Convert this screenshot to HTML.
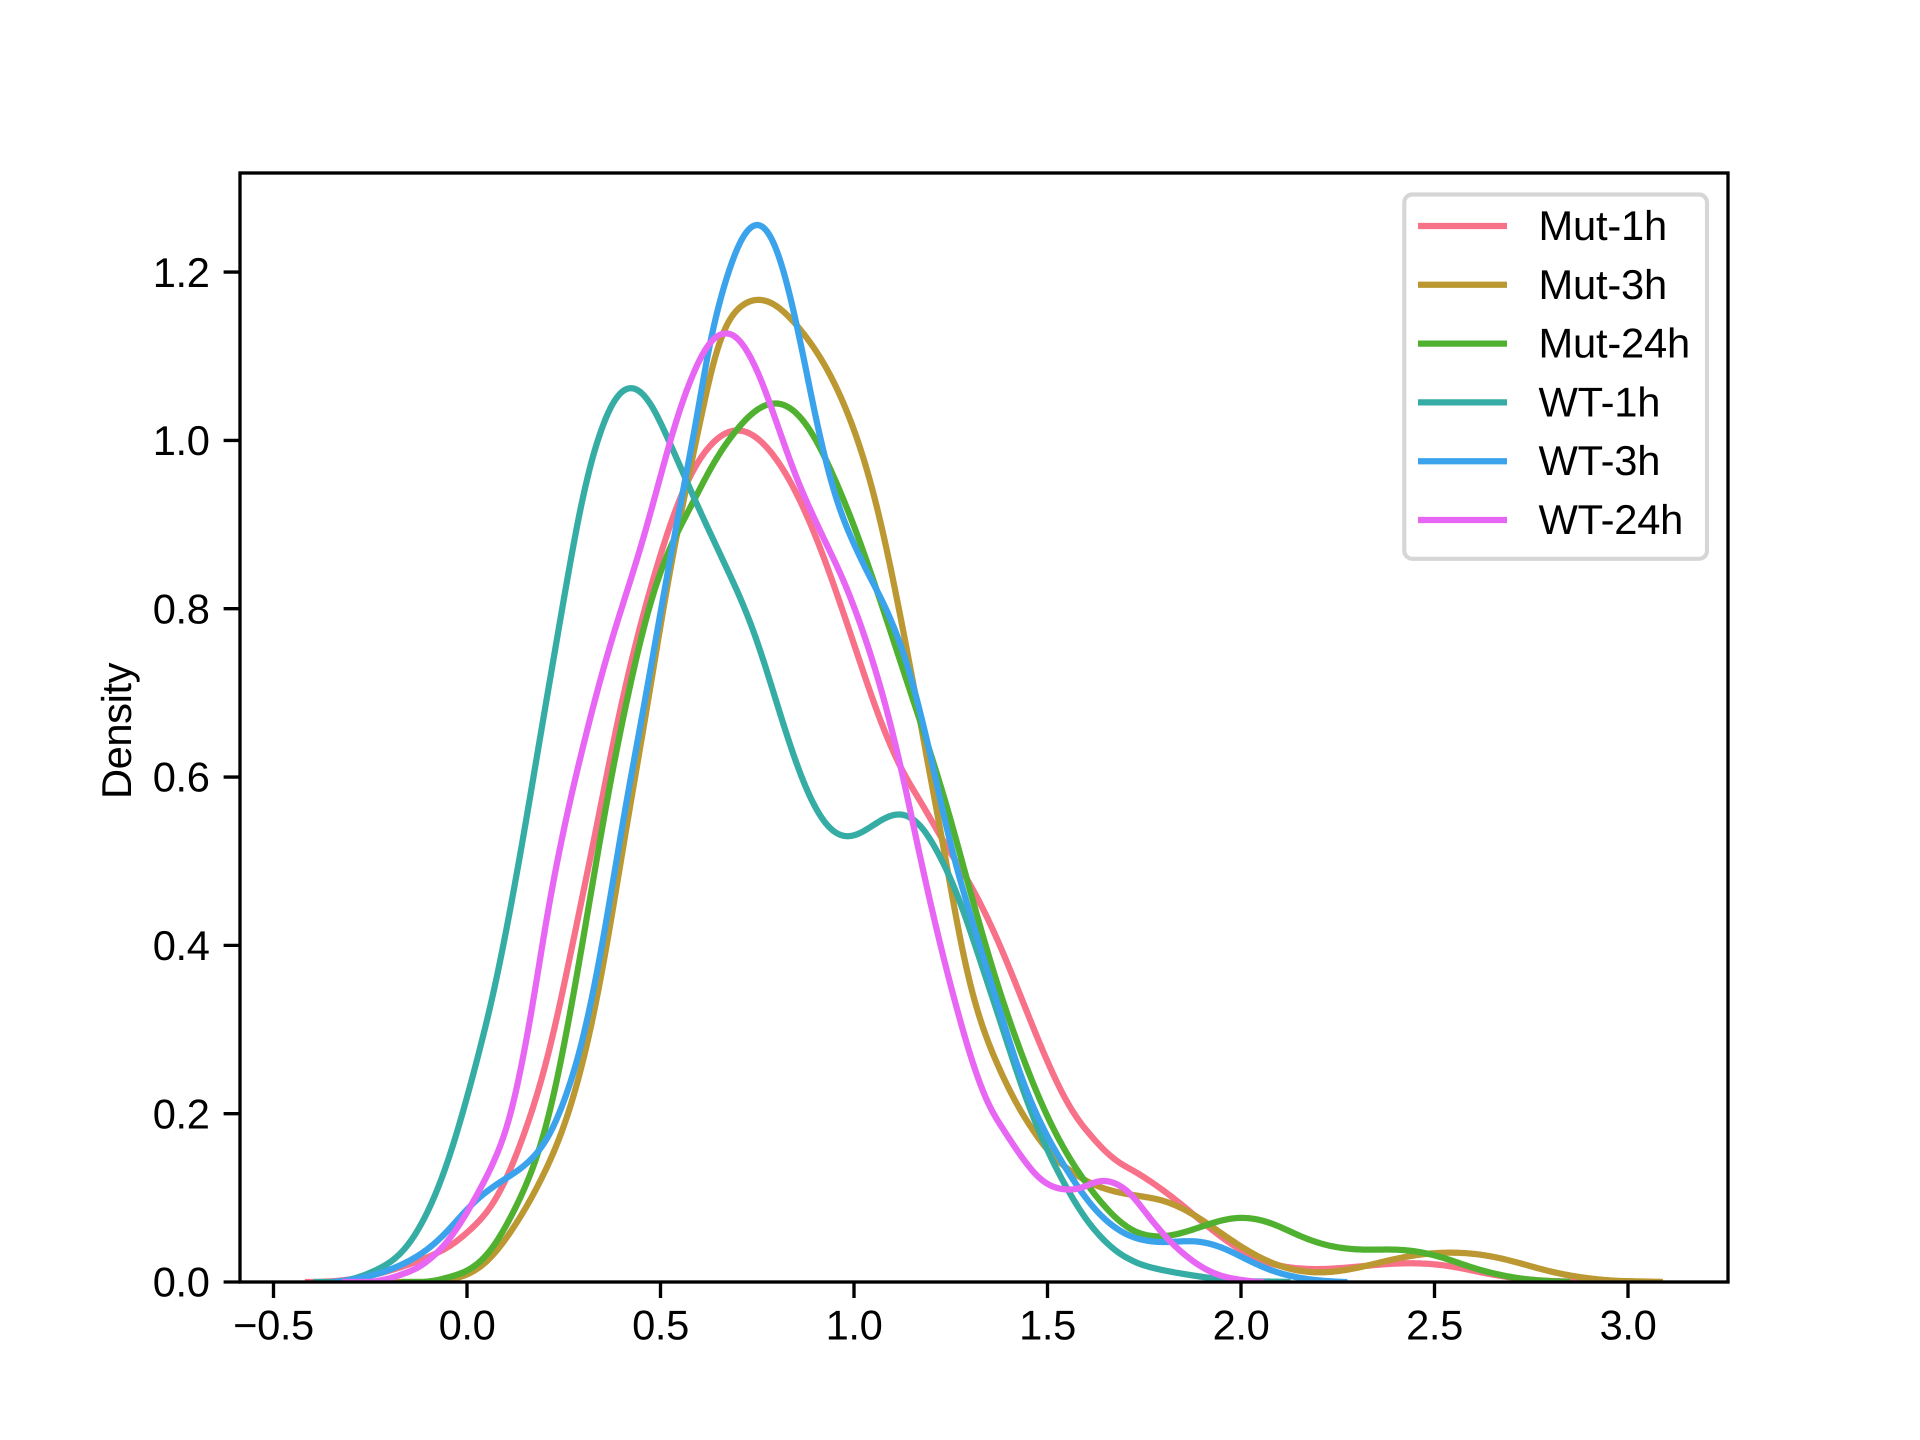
<!DOCTYPE html>
<html lang="en">
<head>
<meta charset="utf-8">
<title>Density by group</title>
<style>
html,body{margin:0;padding:0;background:#fff;}
svg{display:block;}
text{font-family:"Liberation Sans",Arial,sans-serif;font-size:41.67px;fill:#000;text-rendering:geometricPrecision;letter-spacing:-0.4px;}
#legend text{letter-spacing:-0.2px;}
</style>
</head>
<body>
<svg id="chart" xmlns="http://www.w3.org/2000/svg" width="1920" height="1440" viewBox="0 0 1920 1440">
  <rect x="0" y="0" width="1920" height="1440" fill="#ffffff"/>
  <defs>
    <clipPath id="plot-clip"><rect x="240" y="173" width="1488" height="1109"/></clipPath>
  </defs>
  <g id="series-layer" clip-path="url(#plot-clip)"></g>
  <g id="x-axis"></g>
  <g id="y-axis"></g>
  <text transform="translate(131,731) rotate(-90)" text-anchor="middle">Density</text>
  <rect x="240" y="173" width="1488" height="1109" fill="none" stroke="#000" stroke-width="3.33"/>
  <g id="legend">
    <rect x="1404.3" y="194.5" width="302.7" height="364.3" rx="8" ry="8" fill="#ffffff" stroke="#d6d6d6" stroke-width="4.17"/>
  </g>
</svg>
<script>
const seriesNames = ['Mut-1h', 'Mut-3h', 'Mut-24h', 'WT-1h', 'WT-3h', 'WT-24h'];
const seriesColors = ['#f77189', '#bb9832', '#50b131', '#36ada4', '#3ba3ec', '#e866f4'];
const xTicks = [-0.5, 0, 0.5, 1, 1.5, 2, 2.5, 3];
const xTickLabels = ['\u22120.5', '0.0', '0.5', '1.0', '1.5', '2.0', '2.5', '3.0'];
const yTicks = [0, 0.2, 0.4, 0.6, 0.8, 1, 1.2];
const yTickLabels = ['0.0', '0.2', '0.4', '0.6', '0.8', '1.0', '1.2'];

const mut1hX = [-0.419,-0.3,-0.217,-0.13,-0.044,0.008,0.059,0.103,0.154,0.197,0.232,0.283,0.335,0.39,0.43,0.464,0.499,0.542,0.576,0.636,0.692,0.731,0.774,0.817,0.86,0.904,0.964,1.016,1.067,1.119,1.188,1.222,1.308,1.36,1.411,1.455,1.506,1.566,1.623,1.658,1.744,1.805,1.866,1.927,1.987,2.061,2.158,2.233,2.33,2.44,2.537,2.624,2.72,2.9];
const mut1hY = [0,0.003,0.0115,0.026,0.043,0.064,0.0875,0.124,0.187,0.245,0.315,0.425,0.54,0.668,0.747,0.807,0.862,0.921,0.957,0.997,1.012,1.008,0.992,0.965,0.929,0.882,0.807,0.736,0.668,0.612,0.561,0.529,0.466,0.418,0.363,0.311,0.256,0.2,0.171,0.15,0.127,0.107,0.085,0.061,0.0415,0.0237,0.016,0.016,0.02,0.0225,0.02,0.01,0.004,0];

const mut3hX = [-0.2,-0.1,-0.036,0.016,0.067,0.119,0.163,0.206,0.262,0.326,0.374,0.412,0.462,0.529,0.585,0.645,0.68,0.714,0.757,0.8,0.86,0.921,0.972,1.024,1.08,1.119,1.153,1.188,1.23,1.256,1.282,1.308,1.343,1.386,1.43,1.476,1.5,1.586,1.669,1.744,1.83,1.9,1.987,2.072,2.146,2.22,2.305,2.415,2.537,2.66,2.78,2.9,3.09];
const mut3hY = [0,0.001,0.005,0.012,0.0316,0.065,0.097,0.137,0.2,0.315,0.43,0.549,0.668,0.862,0.976,1.111,1.143,1.16,1.167,1.159,1.131,1.092,1.044,0.98,0.882,0.79,0.715,0.62,0.525,0.45,0.391,0.339,0.291,0.244,0.204,0.173,0.156,0.125,0.107,0.103,0.093,0.073,0.046,0.0237,0.0138,0.0114,0.0177,0.03,0.035,0.03,0.0138,0.0043,0];

const mut24hX = [-0.17,-0.078,-0.036,0.008,0.051,0.093,0.137,0.18,0.218,0.264,0.309,0.352,0.403,0.447,0.481,0.516,0.55,0.585,0.636,0.687,0.749,0.8,0.843,0.886,0.929,0.972,1.033,1.075,1.162,1.222,1.3,1.343,1.395,1.446,1.524,1.597,1.658,1.718,1.78,1.84,1.914,2.0,2.072,2.158,2.233,2.318,2.415,2.488,2.6,2.695,2.85];
const mut24hY = [0,0.003,0.0078,0.016,0.0316,0.061,0.101,0.148,0.209,0.315,0.43,0.549,0.668,0.759,0.818,0.862,0.897,0.925,0.973,1.006,1.036,1.044,1.036,1.012,0.976,0.929,0.858,0.798,0.676,0.596,0.466,0.394,0.32,0.256,0.173,0.121,0.085,0.061,0.0546,0.0575,0.069,0.078,0.071,0.053,0.0415,0.0385,0.0387,0.034,0.016,0.0058,0];

const wt1hX = [-0.397,-0.3,-0.26,-0.173,-0.088,0,0.055,0.107,0.145,0.197,0.232,0.266,0.3,0.339,0.387,0.424,0.464,0.516,0.568,0.636,0.688,0.731,0.774,0.817,0.86,0.904,0.946,0.985,1.033,1.076,1.116,1.162,1.222,1.248,1.291,1.334,1.377,1.446,1.5,1.56,1.62,1.68,1.805,1.94,2.128];
const wt1hY = [0,0.004,0.009,0.035,0.093,0.2235,0.315,0.43,0.529,0.668,0.763,0.85,0.937,1.0,1.052,1.062,1.05,1.004,0.949,0.882,0.83,0.787,0.727,0.664,0.605,0.561,0.535,0.53,0.537,0.551,0.556,0.547,0.505,0.481,0.43,0.37,0.311,0.216,0.156,0.105,0.061,0.0375,0.016,0.004,0];

const wt3hX = [-0.346,-0.25,-0.165,-0.104,-0.052,0,0.043,0.086,0.137,0.18,0.214,0.248,0.313,0.361,0.403,0.451,0.477,0.507,0.533,0.559,0.585,0.628,0.663,0.705,0.731,0.753,0.774,0.8,0.835,0.869,0.904,0.938,0.972,0.998,1.033,1.076,1.119,1.162,1.204,1.256,1.291,1.334,1.377,1.453,1.512,1.573,1.633,1.695,1.756,1.817,1.89,1.951,2.025,2.098,2.17,2.275];
const wt3hY = [0,0.0078,0.022,0.0375,0.059,0.087,0.105,0.119,0.135,0.153,0.176,0.212,0.315,0.43,0.549,0.668,0.735,0.814,0.878,0.945,1.0,1.119,1.179,1.234,1.252,1.256,1.25,1.226,1.171,1.1,1.02,0.957,0.905,0.882,0.844,0.807,0.759,0.695,0.612,0.505,0.454,0.386,0.323,0.216,0.165,0.117,0.081,0.059,0.0486,0.048,0.049,0.0415,0.0237,0.01,0.004,0];

const wt24hX = [-0.323,-0.207,-0.121,-0.078,-0.036,0.008,0.051,0.086,0.128,0.163,0.219,0.266,0.318,0.37,0.421,0.473,0.525,0.576,0.619,0.654,0.675,0.705,0.739,0.783,0.826,0.878,0.925,0.99,1.033,1.076,1.119,1.171,1.205,1.24,1.282,1.334,1.403,1.426,1.475,1.524,1.573,1.646,1.683,1.731,1.792,1.866,1.914,1.987,2.061];
const wt24hY = [0,0.0058,0.0197,0.034,0.0575,0.089,0.129,0.16,0.225,0.315,0.47,0.57,0.668,0.759,0.83,0.909,1.0,1.068,1.111,1.125,1.127,1.119,1.092,1.044,0.985,0.925,0.882,0.814,0.759,0.695,0.616,0.505,0.435,0.37,0.299,0.224,0.171,0.153,0.125,0.111,0.111,0.12,0.117,0.097,0.0575,0.03,0.012,0.0043,0];

const seriesX = [mut1hX, mut3hX, mut24hX, wt1hX, wt3hX, wt24hX];
const seriesY = [mut1hY, mut3hY, mut24hY, wt1hY, wt3hY, wt24hY];

const SVG_NS = 'http://www.w3.org/2000/svg';
function xScale(v) { return 467 + 387 * v; }
function yScale(v) { return 1282 - 841.6 * v; }

/* Gaussian-weighted local quadratic fit with a bandwidth that varies smoothly
   with knot density: removes reading jitter while keeping peak heights. */
function localFit(xs, ys, at) {
  let density = 0;
  for (let i = 0; i < xs.length; i++) {
    const u = (xs[i] - at) / 0.08;
    density += Math.exp(-0.5 * u * u);
  }
  const sigma = Math.min(0.1, Math.max(0.035, 0.2 / Math.max(density, 0.01)));
  const s = [0, 0, 0, 0, 0];
  const t = [0, 0, 0];
  for (let i = 0; i < xs.length; i++) {
    const u = xs[i] - at;
    const w = Math.exp(-0.5 * u * u / (sigma * sigma));
    let p = w;
    for (let k = 0; k < 5; k++) {
      s[k] += p;
      if (k < 3) { t[k] += p * ys[i]; }
      p *= u;
    }
  }
  const det = s[0] * (s[2] * s[4] - s[3] * s[3]) - s[1] * (s[1] * s[4] - s[3] * s[2]) + s[2] * (s[1] * s[3] - s[2] * s[2]);
  if (Math.abs(det) < 1e-18) { return Math.max(0, t[0] / s[0]); }
  const num = t[0] * (s[2] * s[4] - s[3] * s[3]) - s[1] * (t[1] * s[4] - s[3] * t[2]) + s[2] * (t[1] * s[3] - s[2] * t[2]);
  return Math.max(0, num / det);
}

function curvePath(xs, ys) {
  const first = xs[0];
  const last = xs[xs.length - 1];
  /* zero-density padding beyond each end keeps the tails flat on the axis */
  const fitX = [first - 0.3, first - 0.2, first - 0.1].concat(xs, [last + 0.1, last + 0.2, last + 0.3]);
  const fitY = [0, 0, 0].concat(ys, [0, 0, 0]);
  const count = Math.ceil((last - first) / 0.005);
  let d = '';
  for (let i = 0; i <= count; i++) {
    const at = first + (last - first) * i / count;
    const value = localFit(fitX, fitY, at);
    d += (i === 0 ? 'M' : 'L') + xScale(at).toFixed(2) + ' ' + yScale(value).toFixed(2);
  }
  return d;
}

const seriesLayer = document.getElementById('series-layer');
seriesNames.forEach(function (name, i) {
  const path = document.createElementNS(SVG_NS, 'path');
  path.setAttribute('d', curvePath(seriesX[i], seriesY[i]));
  path.setAttribute('fill', 'none');
  path.setAttribute('stroke', seriesColors[i]);
  path.setAttribute('stroke-width', '6.25');
  path.setAttribute('stroke-linejoin', 'round');
  
  
  seriesLayer.appendChild(path);
});

const xAxis = document.getElementById('x-axis');
xTicks.forEach(function (v, i) {
  const tick = document.createElementNS(SVG_NS, 'line');
  tick.setAttribute('x1', xScale(v));
  tick.setAttribute('x2', xScale(v));
  tick.setAttribute('y1', 1282);
  tick.setAttribute('y2', 1298);
  tick.setAttribute('stroke', '#000');
  tick.setAttribute('stroke-width', '3.33');
  
  
  xAxis.appendChild(tick);
  const label = document.createElementNS(SVG_NS, 'text');
  label.setAttribute('x', xScale(v));
  label.setAttribute('y', 1339.5);
  label.setAttribute('text-anchor', 'middle');
  
  
  label.textContent = xTickLabels[i];
  xAxis.appendChild(label);
});

const yAxis = document.getElementById('y-axis');
yTicks.forEach(function (v, i) {
  const tick = document.createElementNS(SVG_NS, 'line');
  tick.setAttribute('x1', 223.6);
  tick.setAttribute('x2', 240);
  tick.setAttribute('y1', yScale(v));
  tick.setAttribute('y2', yScale(v));
  tick.setAttribute('stroke', '#000');
  tick.setAttribute('stroke-width', '3.33');
  
  
  yAxis.appendChild(tick);
  const label = document.createElementNS(SVG_NS, 'text');
  label.setAttribute('x', 209.5);
  label.setAttribute('y', yScale(v) + 14.7);
  label.setAttribute('text-anchor', 'end');
  
  
  label.textContent = yTickLabels[i];
  yAxis.appendChild(label);
});

const legend = document.getElementById('legend');
seriesNames.forEach(function (name, i) {
  const rowY = 226 + i * 58.8;
  const swatch = document.createElementNS(SVG_NS, 'line');
  swatch.setAttribute('x1', 1418);
  swatch.setAttribute('x2', 1507);
  swatch.setAttribute('y1', rowY);
  swatch.setAttribute('y2', rowY);
  swatch.setAttribute('stroke', seriesColors[i]);
  swatch.setAttribute('stroke-width', '6.25');
  
  
  legend.appendChild(swatch);
  const label = document.createElementNS(SVG_NS, 'text');
  label.setAttribute('x', 1538.5);
  label.setAttribute('y', rowY + 14);
  
  
  label.textContent = name;
  legend.appendChild(label);
});
</script>
</body>
</html>
